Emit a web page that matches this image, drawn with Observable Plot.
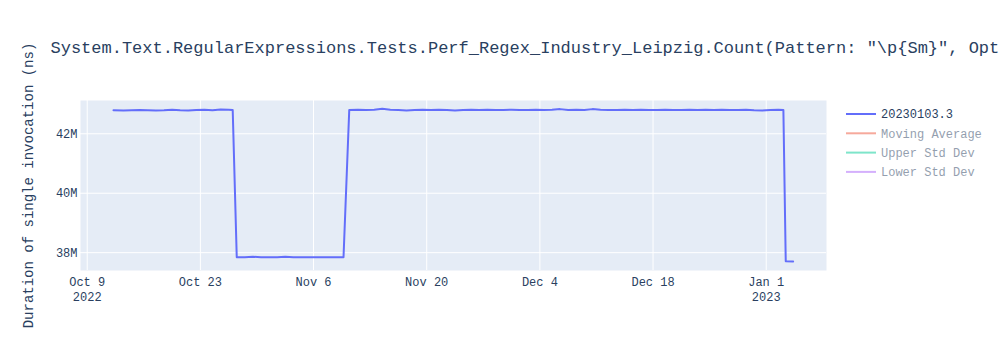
<!DOCTYPE html>
<html><head><meta charset="utf-8">
<script src="https://cdn.jsdelivr.net/npm/d3@7"></script>
<script src="https://cdn.jsdelivr.net/npm/@observablehq/plot@0.6"></script>
<style>body{margin:0;background:#fff;}</style>
</head><body><div id="chart"></div>
<script>
const chartTitle = 'System.Text.RegularExpressions.Tests.Perf_Regex_Industry_Leipzig.Count(Pattern: "\\p{Sm}", Opt';
const yTitle = "Duration of single invocation (ns)";
const legendLabels = ["20230103.3", "Moving Average", "Upper Std Dev", "Lower Std Dev"];
const legendColors = ["#636efa", "#EF553B", "#00CC96", "#AB63FA"];
const legendVisible = [true, false, false, false];

const dates = [
  "2022-10-12T06:00","2022-10-13T12:00","2022-10-14T12:00","2022-10-15T12:00","2022-10-16T12:00",
  "2022-10-17T12:00","2022-10-18T12:00","2022-10-19T12:00","2022-10-20T12:00","2022-10-21T12:00",
  "2022-10-22T12:00","2022-10-23T12:00","2022-10-24T12:00","2022-10-25T12:00","2022-10-26T12:00",
  "2022-10-27T00:00",
  "2022-10-27T12:00","2022-10-28T12:00","2022-10-29T12:00","2022-10-30T12:00","2022-10-31T12:00",
  "2022-11-01T12:00","2022-11-02T12:00","2022-11-03T12:00","2022-11-04T12:00","2022-11-05T12:00",
  "2022-11-06T12:00","2022-11-07T12:00","2022-11-08T12:00","2022-11-09T17:00",
  "2022-11-10T10:00","2022-11-11T12:00","2022-11-12T12:00","2022-11-13T12:00","2022-11-14T12:00",
  "2022-11-15T12:00","2022-11-16T12:00","2022-11-17T12:00","2022-11-18T12:00","2022-11-19T12:00",
  "2022-11-20T12:00","2022-11-21T12:00","2022-11-22T12:00","2022-11-23T12:00","2022-11-24T12:00",
  "2022-11-25T12:00","2022-11-26T12:00","2022-11-27T12:00","2022-11-28T12:00","2022-11-29T12:00",
  "2022-11-30T12:00","2022-12-01T12:00","2022-12-02T12:00","2022-12-03T12:00","2022-12-04T12:00",
  "2022-12-05T12:00","2022-12-06T12:00","2022-12-07T12:00","2022-12-08T12:00","2022-12-09T12:00",
  "2022-12-10T12:00","2022-12-11T12:00","2022-12-12T12:00","2022-12-13T12:00","2022-12-14T12:00",
  "2022-12-15T12:00","2022-12-16T12:00","2022-12-17T12:00","2022-12-18T12:00","2022-12-19T12:00",
  "2022-12-20T12:00","2022-12-21T12:00","2022-12-22T12:00","2022-12-23T12:00","2022-12-24T12:00",
  "2022-12-25T12:00","2022-12-26T12:00","2022-12-27T12:00","2022-12-28T12:00","2022-12-29T12:00",
  "2022-12-30T12:00","2022-12-31T12:00","2023-01-01T12:00","2023-01-02T12:00","2023-01-03T03:00",
  "2023-01-03T10:00","2023-01-04T08:00"
];
const durations = [
  42790000,42780000,42790000,42800000,42790000,
  42780000,42790000,42810000,42790000,42780000,
  42800000,42810000,42790000,42820000,42810000,
  42800000,
  37850000,37850000,37860000,37850000,37850000,
  37850000,37860000,37850000,37850000,37850000,
  37850000,37850000,37850000,37850000,
  42800000,42810000,42800000,42810000,42840000,
  42810000,42800000,42780000,42800000,42810000,
  42800000,42810000,42800000,42780000,42800000,
  42810000,42800000,42810000,42800000,42800000,
  42810000,42800000,42800000,42810000,42800000,
  42810000,42830000,42800000,42810000,42800000,
  42830000,42810000,42800000,42800000,42810000,
  42800000,42810000,42800000,42800000,42810000,
  42800000,42800000,42810000,42800000,42810000,
  42800000,42810000,42800000,42800000,42810000,
  42790000,42780000,42800000,42810000,42800000,
  37710000,37700000
];

const xTickDates = ["2022-10-09","2022-10-23","2022-11-06","2022-11-20","2022-12-04","2022-12-18","2023-01-01"];
const xTickLabels = ["Oct 9\n2022","Oct 23","Nov 6","Nov 20","Dec 4","Dec 18","Jan 1\n2023"];
const yTickValues = [38000000, 40000000, 42000000];
const yTickLabels = ["38M", "40M", "42M"];

const data = dates.map((d, i) => ({date: new Date(d + "Z"), value: durations[i]}));
const xTicks = xTickDates.map(d => new Date(d + "T00:00Z"));
const xLabelMap = new Map(xTicks.map((d, i) => [+d, xTickLabels[i]]));
const yLabelMap = new Map(yTickValues.map((v, i) => [v, yTickLabels[i]]));

const W = 1000, H = 350, mL = 80, mR = 174, mT = 100, mB = 80;
const font = '"Courier New", "Liberation Mono", monospace';
const ink = "#2a3f5f";

const chart = Plot.plot({
  width: W, height: H,
  marginLeft: mL, marginRight: mR, marginTop: mT, marginBottom: mB,
  style: {fontFamily: font, fontSize: "12px", color: ink, background: "white", overflow: "visible"},
  x: {type: "utc", domain: [new Date("2022-10-08T04:05Z"), new Date("2023-01-08T11:00Z")]},
  y: {domain: [37400000, 43120000]},
  marks: [
    Plot.frame({fill: "#E5ECF6", stroke: "none"}),
    Plot.gridX(xTicks, {stroke: "white", strokeOpacity: 1, strokeWidth: 1}),
    Plot.gridY(yTickValues, {stroke: "white", strokeOpacity: 1, strokeWidth: 1}),
    Plot.axisX(xTicks, {tickSize: 0, tickPadding: 5, tickFormat: d => xLabelMap.get(+d), lineHeight: 1.25, label: null}),
    Plot.axisY(yTickValues, {tickSize: 0, tickPadding: 3, tickFormat: d => yLabelMap.get(d), label: null}),
    Plot.line(data, {x: "date", y: "value", stroke: legendColors[0], strokeWidth: 2}),
    Plot.text([chartTitle], {text: d => d, frameAnchor: "top-left", dx: -30, dy: -53, textAnchor: "start", lineAnchor: "middle", fontSize: 17}),
    Plot.text([yTitle], {text: d => d, frameAnchor: "left", rotate: -90, dx: -52, textAnchor: "middle", lineAnchor: "middle", fontSize: 14})
  ]
});

const svg = d3.select(chart);
const lg = svg.append("g").attr("font-family", font).attr("font-size", 12).attr("text-anchor", "start");
const lx = W - mR + 20;
legendLabels.forEach((label, i) => {
  const y = mT + 14 + i * 19.3;
  const op = legendVisible[i] ? 1 : 0.5;
  lg.append("line").attr("x1", lx).attr("x2", lx + 30).attr("y1", y).attr("y2", y)
    .attr("stroke", legendColors[i]).attr("stroke-width", 2).attr("opacity", op);
  lg.append("text").attr("x", lx + 35).attr("y", y).attr("dy", "0.35em").attr("text-anchor", "start")
    .attr("fill", ink).attr("opacity", op).text(label);
});

document.getElementById("chart").appendChild(chart);
</script>
</body></html>
